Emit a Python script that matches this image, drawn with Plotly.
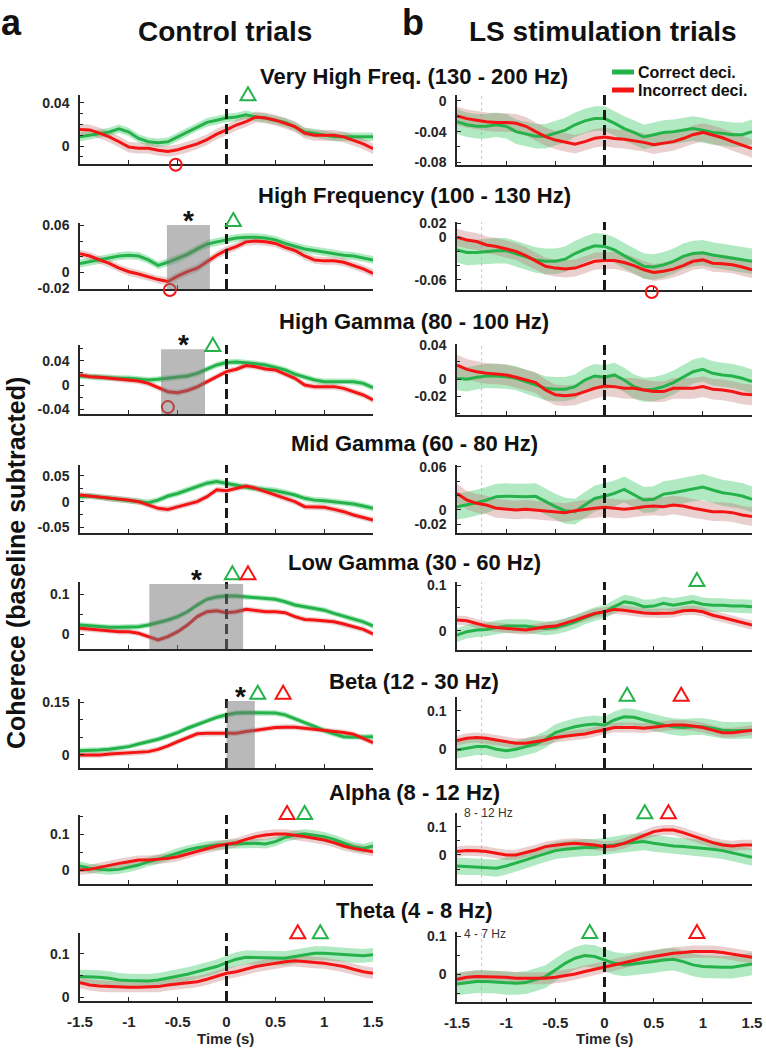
import plotly.graph_objects as go

W, H = 766, 1050

# ---------------- data ----------------
time = [-1.5, -1.4, -1.3, -1.2, -1.1, -1.0, -0.9, -0.8, -0.7, -0.6, -0.5, -0.4, -0.3, -0.2, -0.1,
        0.0, 0.1, 0.2, 0.3, 0.4, 0.5, 0.6, 0.7, 0.8, 0.9, 1.0, 1.1, 1.2, 1.3, 1.4, 1.5]

band_titles = ["Very High Freq. (130 - 200 Hz)", "High Frequency (100 - 130 Hz)",
               "High Gamma (80 - 100 Hz)", "Mid Gamma (60 - 80 Hz)", "Low Gamma (30 - 60 Hz)",
               "Beta (12 - 30 Hz)", "Alpha (8 - 12 Hz)", "Theta (4 - 8 Hz)"]

# Control trials
vhf_ctrl_correct = [0.0085, 0.010, 0.012, 0.013, 0.016, 0.013, 0.007, 0.004, 0.003, 0.004, 0.0085, 0.013, 0.018, 0.022, 0.024,
                    0.026, 0.027, 0.029, 0.027, 0.026, 0.024, 0.022, 0.018, 0.013, 0.012, 0.010, 0.0085, 0.0085, 0.0085, 0.0085, 0.0085]
vhf_ctrl_incorrect = [0.0154, 0.015, 0.012, 0.0085, 0.004, -0.001, -0.002, -0.002, -0.004, -0.005, -0.0035, -0.001, 0.002, 0.006, 0.011,
                      0.015, 0.0195, 0.0227, 0.027, 0.026, 0.024, 0.021, 0.018, 0.012, 0.010, 0.010, 0.010, 0.0085, 0.005, 0.002, -0.0025]
hf_ctrl_correct = [0.0115, 0.0138, 0.016, 0.0185, 0.021, 0.022, 0.021, 0.016, 0.009, 0.013, 0.0175, 0.023, 0.030, 0.036, 0.039,
                   0.0415, 0.044, 0.045, 0.045, 0.044, 0.0415, 0.037, 0.033, 0.030, 0.028, 0.026, 0.024, 0.022, 0.021, 0.0185, 0.016]
hf_ctrl_incorrect = [0.024, 0.021, 0.016, 0.0115, 0.0055, 0.001, -0.002, -0.0055, -0.009, -0.0115, -0.0046, 0.001, 0.0055, 0.0138, 0.022,
                     0.0286, 0.033, 0.039, 0.040, 0.039, 0.037, 0.032, 0.028, 0.021, 0.016, 0.0148, 0.0148, 0.013, 0.009, 0.0046, -0.001]
hg_ctrl_correct = [0.0148, 0.0137, 0.0126, 0.0126, 0.011, 0.011, 0.0093, 0.0082, 0.0093, 0.011, 0.0126, 0.0148, 0.019, 0.0258, 0.033,
                   0.037, 0.038, 0.0367, 0.0345, 0.033, 0.029, 0.0247, 0.018, 0.0126, 0.0082, 0.0055, 0.0055, 0.0066, 0.0055, 0.0027, -0.0044]
hg_ctrl_incorrect = [0.0164, 0.0137, 0.0126, 0.011, 0.0093, 0.0082, 0.0066, 0.0027, -0.004, -0.011, -0.0126, -0.009, -0.003, 0.0055, 0.0148,
                     0.022, 0.026, 0.032, 0.030, 0.0264, 0.0247, 0.018, 0.011, 0.0, -0.0027, -0.0027, -0.0027, -0.0055, -0.011, -0.0164, -0.0247]
mg_ctrl_correct = [0.0097, 0.011, 0.0085, 0.0065, 0.0045, 0.003, 0.0, -0.002, 0.003, 0.011, 0.016, 0.023, 0.029, 0.036, 0.039,
                   0.036, 0.032, 0.028, 0.026, 0.024, 0.0214, 0.0175, 0.013, 0.0065, 0.003, 0.002, 0.0, -0.002, -0.0045, -0.0084, -0.013]
mg_ctrl_incorrect = [0.013, 0.011, 0.0097, 0.0065, 0.0045, 0.003, 0.0, -0.0065, -0.013, -0.015, -0.0097, -0.0045, 0.0, 0.0097, 0.023,
                     0.0214, 0.026, 0.0305, 0.026, 0.0195, 0.013, 0.0065, 0.0, -0.0097, -0.011, -0.011, -0.015, -0.0195, -0.026, -0.0305, -0.036]
lg_ctrl_correct = [0.023, 0.0207, 0.019, 0.0174, 0.0174, 0.0174, 0.019, 0.023, 0.029, 0.0355, 0.044, 0.056, 0.073, 0.087, 0.093,
                   0.095, 0.095, 0.093, 0.092, 0.089, 0.087, 0.081, 0.073, 0.0686, 0.0645, 0.060, 0.052, 0.045, 0.037, 0.031, 0.0207]
lg_ctrl_incorrect = [0.0149, 0.0124, 0.0107, 0.009, 0.0066, 0.0066, 0.0025, -0.0058, -0.014, -0.0058, 0.0066, 0.023, 0.044, 0.056, 0.0587,
                     0.0537, 0.056, 0.062, 0.0587, 0.056, 0.056, 0.0537, 0.044, 0.037, 0.0355, 0.034, 0.031, 0.0256, 0.019, 0.0124, 0.001]
beta_ctrl_correct = [0.0123, 0.0123, 0.014, 0.016, 0.019, 0.0237, 0.031, 0.038, 0.0446, 0.054, 0.0636, 0.076, 0.087, 0.0978, 0.107,
                     0.114, 0.119, 0.12, 0.12, 0.12, 0.119, 0.114, 0.104, 0.092, 0.081, 0.069, 0.06, 0.052, 0.050, 0.052, 0.052]
beta_ctrl_incorrect = [0.0, 0.0, 0.0, 0.0028, 0.0047, 0.0066, 0.0066, 0.0095, 0.016, 0.0256, 0.038, 0.050, 0.06, 0.0617, 0.0617,
                       0.0617, 0.0617, 0.0665, 0.071, 0.074, 0.078, 0.079, 0.079, 0.076, 0.073, 0.071, 0.068, 0.0636, 0.059, 0.0475, 0.035]
alpha_ctrl_correct = [0.0112, 0.0047, 0.0019, 0.0, 0.0019, 0.0075, 0.014, 0.0234, 0.030, 0.039, 0.0486, 0.056, 0.0626, 0.0673, 0.070,
                      0.072, 0.073, 0.0748, 0.0748, 0.073, 0.0794, 0.0916, 0.098, 0.101, 0.098, 0.0935, 0.086, 0.0748, 0.0654, 0.0607, 0.0673]
alpha_ctrl_incorrect = [0.0, 0.0019, 0.0075, 0.014, 0.0187, 0.0234, 0.028, 0.028, 0.030, 0.0327, 0.0374, 0.045, 0.054, 0.0607, 0.0673,
                        0.072, 0.0766, 0.086, 0.0935, 0.098, 0.101, 0.101, 0.098, 0.0935, 0.089, 0.084, 0.0766, 0.0673, 0.0607, 0.056, 0.0514]
theta_ctrl_correct = [0.0477, 0.0477, 0.046, 0.044, 0.040, 0.0385, 0.0385, 0.0377, 0.040, 0.044, 0.0477, 0.053, 0.059, 0.0646, 0.0708,
                      0.080, 0.0877, 0.0923, 0.0915, 0.09, 0.09, 0.09, 0.0938, 0.0977, 0.1015, 0.1015, 0.1, 0.0977, 0.0954, 0.0954, 0.0977]
theta_ctrl_incorrect = [0.0338, 0.0285, 0.026, 0.0246, 0.023, 0.023, 0.023, 0.0246, 0.0246, 0.0285, 0.0308, 0.0338, 0.036, 0.0415, 0.0477,
                        0.0554, 0.059, 0.0646, 0.0708, 0.0746, 0.0785, 0.082, 0.084, 0.082, 0.080, 0.0785, 0.0746, 0.0708, 0.0646, 0.059, 0.0554]

# LS stimulation trials
vhf_ls_correct = [-0.027, -0.031, -0.033, -0.033, -0.031, -0.033, -0.040, -0.043, -0.046, -0.046, -0.042, -0.038, -0.031, -0.026, -0.023,
                  -0.023, -0.029, -0.036, -0.041, -0.047, -0.044, -0.041, -0.040, -0.038, -0.036, -0.038, -0.041, -0.042, -0.044, -0.044, -0.040]
vhf_ls_incorrect = [-0.0196, -0.023, -0.025, -0.027, -0.028, -0.028, -0.029, -0.033, -0.040, -0.0465, -0.051, -0.054, -0.0565, -0.053, -0.0487,
                    -0.047, -0.049, -0.050, -0.052, -0.054, -0.057, -0.055, -0.053, -0.049, -0.044, -0.041, -0.044, -0.048, -0.053, -0.057, -0.062]
hf_ls_correct = [-0.0178, -0.0216, -0.0216, -0.020, -0.019, -0.019, -0.0234, -0.028, -0.032, -0.034, -0.034, -0.031, -0.023, -0.017, -0.012,
                 -0.013, -0.018, -0.026, -0.034, -0.041, -0.042, -0.039, -0.034, -0.027, -0.023, -0.022, -0.025, -0.027, -0.030, -0.032, -0.034]
hf_ls_incorrect = [0.0, -0.004, -0.006, -0.011, -0.013, -0.017, -0.020, -0.026, -0.034, -0.041, -0.0436, -0.045, -0.0436, -0.039, -0.034,
                   -0.033, -0.033, -0.0356, -0.040, -0.046, -0.0497, -0.048, -0.045, -0.040, -0.034, -0.032, -0.0366, -0.0375, -0.039, -0.042, -0.046]
hg_ls_correct = [0.0012, 0.0, 0.0023, 0.0038, 0.0038, 0.003, 0.0012, -0.0027, -0.0065, -0.0104, -0.0115, -0.0115, -0.0085, -0.0008, 0.0038,
                 0.0023, 0.005, -0.0008, -0.0085, -0.0123, -0.0115, -0.0085, -0.0038, 0.003, 0.0088, 0.0115, 0.0069, 0.005, 0.0038, 0.0012, -0.0027]
hg_ls_incorrect = [0.0165, 0.0115, 0.0088, 0.0069, 0.0062, 0.005, 0.0023, -0.0008, -0.0038, -0.0123, -0.018, -0.019, -0.018, -0.0142, -0.0104,
                   -0.0077, -0.0085, -0.0104, -0.0104, -0.0123, -0.0142, -0.0142, -0.0104, -0.0104, -0.0104, -0.0085, -0.0115, -0.0123, -0.0142, -0.017, -0.018]
mg_ls_correct = [0.0046, 0.0069, 0.010, 0.0138, 0.0185, 0.019, 0.0185, 0.0185, 0.019, 0.0115, 0.0046, -0.001, -0.0023, 0.0069, 0.016,
                 0.019, 0.023, 0.0286, 0.0208, 0.0138, 0.0148, 0.022, 0.024, 0.0268, 0.030, 0.032, 0.0277, 0.024, 0.022, 0.0194, 0.0148]
mg_ls_incorrect = [0.023, 0.0138, 0.0092, 0.0069, 0.0023, 0.001, 0.0, 0.001, 0.0, -0.001, -0.0023, -0.0037, -0.001, 0.001, 0.0023,
                   0.0037, 0.0023, 0.001, 0.0023, 0.0046, 0.0055, 0.0046, 0.0069, 0.0055, 0.0023, 0.0, -0.0023, -0.0023, -0.0037, -0.007, -0.0092]
lg_ls_correct = [-0.0095, -0.002, 0.0015, 0.003, 0.0073, 0.0102, 0.0102, 0.0102, 0.0073, 0.005, 0.0073, 0.0124, 0.0197, 0.029, 0.0365,
                 0.0416, 0.0526, 0.0635, 0.060, 0.0526, 0.054, 0.060, 0.056, 0.060, 0.0635, 0.058, 0.056, 0.056, 0.054, 0.054, 0.0526]
lg_ls_incorrect = [0.0234, 0.022, 0.016, 0.0102, 0.0073, 0.005, 0.003, 0.0015, 0.005, 0.0088, 0.0102, 0.016, 0.0234, 0.0307, 0.038,
                   0.0416, 0.0467, 0.045, 0.0416, 0.039, 0.038, 0.038, 0.039, 0.0438, 0.045, 0.0416, 0.034, 0.029, 0.0234, 0.0175, 0.0124]
beta_ls_correct = [-0.0017, 0.0026, 0.007, 0.007, 0.0, -0.0035, 0.0, 0.007, 0.0139, 0.026, 0.0435, 0.052, 0.059, 0.0635, 0.066,
                   0.0635, 0.0765, 0.085, 0.0835, 0.0765, 0.0696, 0.0635, 0.059, 0.057, 0.059, 0.059, 0.0548, 0.050, 0.0487, 0.0487, 0.050]
beta_ls_incorrect = [0.0226, 0.0287, 0.031, 0.0287, 0.0243, 0.020, 0.0157, 0.0157, 0.020, 0.0243, 0.031, 0.0348, 0.0374, 0.040, 0.046,
                     0.052, 0.057, 0.057, 0.057, 0.0548, 0.057, 0.061, 0.0635, 0.0635, 0.061, 0.057, 0.050, 0.0435, 0.0435, 0.046, 0.050]
alpha_ls_correct = [-0.0388, -0.041, -0.041, -0.0435, -0.047, -0.0388, -0.0294, -0.0176, -0.0059, 0.0059, 0.0153, 0.02, 0.0235, 0.0259, 0.0259,
                    0.0294, 0.0353, 0.041, 0.0435, 0.047, 0.041, 0.0353, 0.0318, 0.0294, 0.027, 0.0235, 0.02, 0.0153, 0.0082, 0.0, -0.0082]
alpha_ls_incorrect = [0.0118, 0.0153, 0.0145, 0.0118, 0.0059, 0.0, 0.0, 0.0082, 0.0176, 0.0294, 0.0353, 0.0388, 0.041, 0.0388, 0.0353,
                      0.0294, 0.0318, 0.041, 0.0553, 0.0706, 0.0824, 0.088, 0.088, 0.0788, 0.067, 0.0553, 0.0435, 0.0353, 0.0318, 0.0353, 0.0353]
theta_ls_correct = [-0.0257, -0.022, -0.0195, -0.0195, -0.021, -0.024, -0.024, -0.022, -0.015, -0.0062, 0.0115, 0.029, 0.0425, 0.0496, 0.047,
                    0.038, 0.029, 0.0248, 0.0274, 0.031, 0.0336, 0.038, 0.0398, 0.0336, 0.0248, 0.0204, 0.0186, 0.0186, 0.0186, 0.0221, 0.0274]
theta_ls_incorrect = [-0.0133, -0.008, -0.0062, -0.0062, -0.0062, -0.008, -0.0106, -0.0106, -0.0106, -0.0106, -0.008, -0.0044, 0.0009, 0.0071, 0.0133,
                      0.0186, 0.0248, 0.031, 0.038, 0.0425, 0.047, 0.0513, 0.0558, 0.0575, 0.060, 0.060, 0.060, 0.0575, 0.054, 0.0487, 0.045]

# SEM half-widths (correct, incorrect) per panel
sem_ctrl = [(0.004, 0.005), (0.005, 0.005), (0.005, 0.005), (0.006, 0.006), (0.007, 0.007), (0.008, 0.008), (0.013, 0.013), (0.016, 0.013)]
sem_ls = [(0.016, 0.012), (0.018, 0.012), (0.014, 0.012), (0.018, 0.013), (0.015, 0.010), (0.022, 0.013), (0.030, 0.018), (0.030, 0.016)]

# y ticks per panel
yticks_ctrl = [[0, 0.04], [-0.02, 0, 0.06], [-0.04, 0, 0.04], [-0.05, 0, 0.05], [0, 0.1], [0, 0.15], [0, 0.1], [0, 0.1]]
yticks_ls = [[-0.08, -0.04, 0], [-0.06, 0, 0.02], [-0.02, 0, 0.04], [-0.02, 0, 0.06], [0, 0.1], [0, 0.1], [0, 0.1], [0, 0.1]]
ytick_text_ctrl = [["0", "0.04"], ["-0.02", "0", "0.06"], ["-0.04", "0", "0.04"], ["-0.05", "0", "0.05"], ["0", "0.1"], ["0", "0.15"], ["0", "0.1"], ["0", "0.1"]]
ytick_text_ls = [["-0.08", "-0.04", "0"], ["-0.06", "0", "0.02"], ["-0.02", "0", "0.04"], ["-0.02", "0", "0.06"], ["0", "0.1"], ["0", "0.1"], ["0", "0.1"], ["0", "0.1"]]
yrange_ctrl = [[-0.0167, 0.0474], [-0.021, 0.063], [-0.0477, 0.0658], [-0.061, 0.0714], [-0.0365, 0.13], [-0.037, 0.159], [-0.039, 0.154], [-0.0085, 0.148]]
yrange_ls = [[-0.0835, 0.0078], [-0.0745, 0.0215], [-0.0413, 0.0408], [-0.032, 0.0625], [-0.042, 0.1066], [-0.0488, 0.1365], [-0.1025, 0.148], [-0.0735, 0.112]]
minor_ctrl = [0.01, 0.02, 0.02, 0.025, 0.05, 0.05, 0.05, 0.05]
minor_ls = [0.02, 0.02, 0.02, 0.02, 0.05, 0.05, 0.05, 0.05]

xtick_vals = [-1.5, -1, -0.5, 0, 0.5, 1, 1.5]
xtick_text = ["-1.5", "-1", "-0.5", "0", "0.5", "1", "1.5"]

# significance markers: (time, kind)  kind: 'c'=correct peak, 'i'=incorrect peak
tri_ctrl = [[(0.22, 'c')], [(0.07, 'c')], [(-0.14, 'c')], [], [(0.06, 'c'), (0.22, 'i')], [(0.32, 'c'), (0.58, 'i')],
            [(0.62, 'i'), (0.80, 'c')], [(0.73, 'i'), (0.96, 'c')]]
tri_ls = [[], [], [], [], [(0.94, 'c')], [(0.23, 'c'), (0.78, 'i')], [(0.41, 'c'), (0.65, 'i')], [(-0.15, 'c'), (0.94, 'i')]]
circ_ctrl = [[-0.52], [-0.58], [-0.60], [], [], [], [], []]
circ_ls = [[], [0.48], [], [], [], [], [], []]
# significant difference windows (start, end) in control trials
sig_window_ctrl = [None, (-0.61, -0.17), (-0.67, -0.22), None, (-0.79, 0.17), (0.0, 0.29), None, None]

ctrl_correct = [vhf_ctrl_correct, hf_ctrl_correct, hg_ctrl_correct, mg_ctrl_correct, lg_ctrl_correct, beta_ctrl_correct, alpha_ctrl_correct, theta_ctrl_correct]
ctrl_incorrect = [vhf_ctrl_incorrect, hf_ctrl_incorrect, hg_ctrl_incorrect, mg_ctrl_incorrect, lg_ctrl_incorrect, beta_ctrl_incorrect, alpha_ctrl_incorrect, theta_ctrl_incorrect]
ls_correct = [vhf_ls_correct, hf_ls_correct, hg_ls_correct, mg_ls_correct, lg_ls_correct, beta_ls_correct, alpha_ls_correct, theta_ls_correct]
ls_incorrect = [vhf_ls_incorrect, hf_ls_incorrect, hg_ls_incorrect, mg_ls_incorrect, lg_ls_incorrect, beta_ls_incorrect, alpha_ls_incorrect, theta_ls_incorrect]

# ---------------- geometry / style ----------------
XL = (80, 373)
XR = (457, 752)
ROWS_L = [(95, 164), (223, 289), (345, 414), (465, 533), (582, 649), (699, 768), (815, 884), (933, 1001)]
ROWS_R = [(95, 165), (222, 290), (344, 415), (465, 533), (582, 650), (697, 768), (813, 884), (932, 1002)]
TITLE_Y = [76, 195, 321, 443, 562, 681, 792, 910]
TRI_FRAC_L = [1.01, 1.045, 1.0, 1.0, 1.13, 1.09, 1.03, 1.01]
TRI_FRAC_R = [1.0, 1.0, 1.0, 1.0, 1.03, 1.03, 1.01, 1.0]
CIRC_FRAC_L = [-0.01, -0.015, 0.1, 0, 0, 0, 0, 0]
CIRC_FRAC_R = [0, -0.03, 0, 0, 0, 0, 0, 0]
RECT_TOP = [None, 0.97, 0.94, None, 0.97, 0.97, None, None]
TRI_PATH = 'M-7.5,-6 L7.5,-6 L0,7 Z'

GREEN = 'rgb(38,178,74)'
RED = 'rgb(245,20,20)'
GREEN_BAND = 'rgba(70,205,110,0.42)'
RED_BAND = 'rgba(190,110,110,0.33)'
AX = '#262626'
FONT = 'Liberation Sans, Arial, Helvetica, sans-serif'


def pxx(p):
    return p / W


def pxy(p):
    return 1 - p / H


fig = go.Figure()
layout = dict(width=W, height=H, margin=dict(l=0, r=0, t=0, b=0, autoexpand=False), paper_bgcolor='white',
              plot_bgcolor='white', showlegend=False, font=dict(family=FONT, color=AX))
shapes = []
annotations = []

panel = 0
for row in range(8):
    for col in range(2):
        panel += 1
        xa = 'x' if panel == 1 else f'x{panel}'
        ya = 'y' if panel == 1 else f'y{panel}'
        xk = 'xaxis' if panel == 1 else f'xaxis{panel}'
        yk = 'yaxis' if panel == 1 else f'yaxis{panel}'
        if col == 0:
            xr, (top, bot) = XL, ROWS_L[row]
            yc, yi = ctrl_correct[row], ctrl_incorrect[row]
            sc, si = sem_ctrl[row]
            yr, yt, ytt, mn = yrange_ctrl[row], yticks_ctrl[row], ytick_text_ctrl[row], minor_ctrl[row]
            tris, circs, trif, cf = tri_ctrl[row], circ_ctrl[row], TRI_FRAC_L[row], CIRC_FRAC_L[row]
        else:
            xr, (top, bot) = XR, ROWS_R[row]
            yc, yi = ls_correct[row], ls_incorrect[row]
            sc, si = sem_ls[row]
            yr, yt, ytt, mn = yrange_ls[row], yticks_ls[row], ytick_text_ls[row], minor_ls[row]
            tris, circs, trif, cf = tri_ls[row], circ_ls[row], TRI_FRAC_R[row], CIRC_FRAC_R[row]

        # minor tick values
        mvals = []
        v = round(yt[0] - 5 * mn, 6)
        while v <= yr[1] + 1e-9:
            if v >= yr[0] - 1e-9:
                mvals.append(round(v, 6))
            v = round(v + mn, 6)

        bottom = row == 7
        layout[xk] = dict(domain=[pxx(xr[0]), pxx(xr[1])], anchor=ya, range=[-1.5, 1.5], automargin=False,
                          showline=True, linecolor=AX, linewidth=1.5, ticks='inside', ticklen=4,
                          tickwidth=1.2, tickcolor=AX, tickvals=xtick_vals, ticktext=xtick_text,
                          showticklabels=bottom, tickfont=dict(size=15, weight='bold', color=AX),
                          showgrid=False, zeroline=False, fixedrange=True, ticklabelstandoff=6)
        layout[yk] = dict(domain=[pxy(bot), pxy(top)], anchor=xa, range=yr, showline=True, automargin=False,
                          linecolor=AX, linewidth=1.5, ticks='inside', ticklen=4, tickwidth=1.2,
                          tickcolor=AX, tickvals=yt, ticktext=ytt,
                          tickfont=dict(size=14, weight='bold', color=AX),
                          minor=dict(tickvals=mvals, ticks='inside', ticklen=3, tickcolor=AX, tickwidth=1),
                          showgrid=False, zeroline=False, fixedrange=True, ticklabelstandoff=6)

        # bands
        for vals, s, fc in ((yc, sc, GREEN_BAND), (yi, si, RED_BAND)):
            fig.add_trace(go.Scatter(x=time + time[::-1],
                                     y=[a + s for a in vals] + [a - s for a in vals[::-1]],
                                     fill='toself', fillcolor=fc, line=dict(width=0),
                                     mode='lines', hoverinfo='skip', xaxis=xa, yaxis=ya))
        fig.add_trace(go.Scatter(x=time, y=yc, mode='lines', line=dict(color=GREEN, width=3),
                                 xaxis=xa, yaxis=ya, name='Correct deci.'))
        fig.add_trace(go.Scatter(x=time, y=yi, mode='lines', line=dict(color=RED, width=3),
                                 xaxis=xa, yaxis=ya, name='Incorrect deci.'))

        # dashed event line
        shapes.append(dict(type='line', xref=xa, yref=f'{ya} domain', x0=0, x1=0, y0=0, y1=1.0,
                           line=dict(color='#1a1a1a', width=3, dash='10px,5px'), layer='above'))
        if col == 1:
            shapes.append(dict(type='line', xref=xa, yref=f'{ya} domain', x0=-1.25, x1=-1.25, y0=0, y1=1,
                               line=dict(color='#c8c8c8', width=1, dash='dot'), layer='below'))

        # triangles (peak markers) and circles (trough markers)
        for t, kind in tris:
            c = GREEN if kind == 'c' else RED
            shapes.append(dict(type='path', xref=xa, yref=f'{ya} domain', xsizemode='pixel', ysizemode='pixel',
                               xanchor=t, yanchor=trif, path=TRI_PATH, line=dict(color=c, width=2),
                               fillcolor='rgba(0,0,0,0)', layer='above'))
        for t in circs:
            shapes.append(dict(type='circle', xref=xa, yref=f'{ya} domain', xsizemode='pixel', ysizemode='pixel',
                               xanchor=t, yanchor=cf, x0=-6, x1=6, y0=-6, y1=6,
                               line=dict(color=RED, width=2), fillcolor='rgba(0,0,0,0)', layer='above'))
        if col == 0 and sig_window_ctrl[row] is not None:
            a, b = sig_window_ctrl[row]
            shapes.append(dict(type='rect', xref=xa, yref=f'{ya} domain', x0=a, x1=b, y0=0,
                               y1=RECT_TOP[row], fillcolor='rgba(115,115,115,0.5)',
                               line=dict(width=0), layer='above'))
            annotations.append(dict(text='<b>*</b>', xref=xa, yref=f'{ya} domain', x=(a + b) / 2,
                                    y=RECT_TOP[row], xanchor='center', yanchor='bottom', yshift=-13,
                                    showarrow=False, font=dict(size=28, color='#111')))

# row titles
for row in range(8):
    annotations.append(dict(text=f'<b>{band_titles[row]}</b>', xref='paper', yref='paper',
                            x=pxx(414), y=pxy(TITLE_Y[row]), xanchor='center', yanchor='middle',
                            showarrow=False, font=dict(size=22, color='#111')))

# column headers & panel letters
annotations += [
    dict(text='<b>Control trials</b>', x=pxx(225), y=pxy(32), font=dict(size=28, color='#111')),
    dict(text='<b>LS stimulation trials</b>', x=pxx(603), y=pxy(32), font=dict(size=28, color='#111')),
    dict(text='<b>a</b>', x=pxx(11), y=pxy(0), yanchor='top', font=dict(size=36, color='#111')),
    dict(text='<b>b</b>', x=pxx(413), y=pxy(0), yanchor='top', font=dict(size=36, color='#111')),
    dict(text='<b>Coherece (baseline subtracted)</b>', x=pxx(0), y=pxy(563), xanchor='left', textangle=-90,
         font=dict(size=25, color='#111')),
    dict(text='<b>Time (s)</b>', x=pxx(226), y=pxy(1038), font=dict(size=15, color=AX)),
    dict(text='<b>Time (s)</b>', x=pxx(604), y=pxy(1038), font=dict(size=15, color=AX)),
    dict(text='8 - 12 Hz', x=pxx(462), y=pxy(813), xanchor='left', font=dict(size=12, color='#333')),
    dict(text='4 - 7 Hz', x=pxx(462), y=pxy(934), xanchor='left', font=dict(size=12, color='#333')),
    dict(text='<b>Correct deci.</b>', x=pxx(636), y=pxy(72), xanchor='left', font=dict(size=16, color='#111')),
    dict(text='<b>Incorrect deci.</b>', x=pxx(636), y=pxy(90), xanchor='left', font=dict(size=16, color='#111')),
]
for a in annotations:
    a.setdefault('xref', 'paper')
    a.setdefault('yref', 'paper')
    a.setdefault('showarrow', False)
    a.setdefault('xanchor', 'center')
    a.setdefault('yanchor', 'middle')

# legend swatches
shapes.append(dict(type='line', xref='paper', yref='paper', x0=pxx(612), x1=pxx(634), y0=pxy(72), y1=pxy(72),
                   line=dict(color=GREEN, width=5)))
shapes.append(dict(type='line', xref='paper', yref='paper', x0=pxx(612), x1=pxx(634), y0=pxy(90), y1=pxy(90),
                   line=dict(color=RED, width=5)))

layout['shapes'] = shapes
layout['annotations'] = annotations
fig.update_layout(**layout)
fig.write_html('out.html', config={'displayModeBar': False},
               post_script="document.body.style.margin='0px';document.body.style.padding='0px';"
                           "document.body.style.overflow='hidden';")
